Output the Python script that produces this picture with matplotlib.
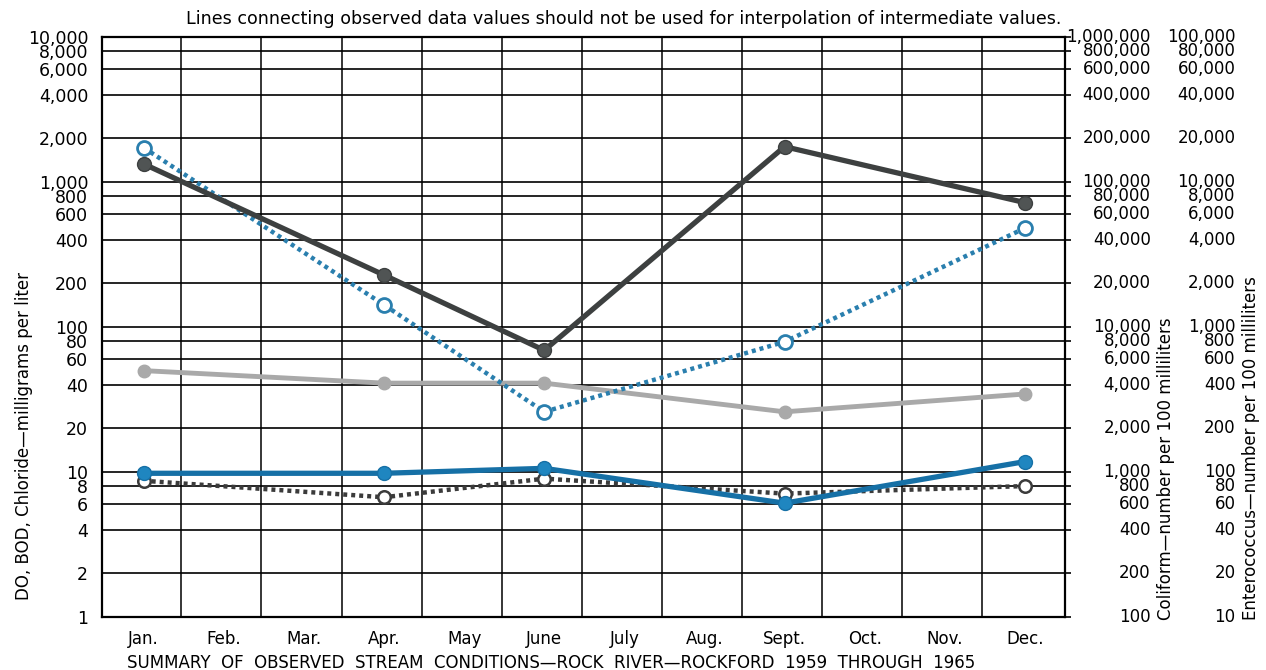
import matplotlib
matplotlib.use('Agg')
import matplotlib.pyplot as plt
import matplotlib.transforms as mtransforms
from matplotlib.ticker import NullFormatter, NullLocator

# months on the x axis
months = ['Jan.', 'Feb.', 'Mar.', 'Apr.', 'May', 'June', 'July', 'Aug.',
          'Sept.', 'Oct.', 'Nov.', 'Dec.']
obs_idx = [0, 3, 5, 8, 11]  # Jan, Apr, June, Sept, Dec

# series values, in left-axis units (coliform x100, enterococcus x10 on right axes)
coliform = [1330, 228, 69, 1750, 720]
enterococcus = [1720, 142, 26, 79, 480]
chloride = [50, 41, 41, 26, 34.5]
do_vals = [9.8, 9.8, 10.6, 6.1, 11.8]
bod = [8.7, 6.7, 9.0, 7.1, 8.0]

left_ticks = [1, 2, 4, 6, 8, 10, 20, 40, 60, 80, 100, 200, 400, 600, 800,
              1000, 2000, 4000, 6000, 8000, 10000]
coliform_ticks = [t * 100 for t in left_ticks]
entero_ticks = [t * 10 for t in left_ticks]


def fmt(v):
    return '{:,}'.format(int(v))


fig = plt.figure(figsize=(12.66, 6.70), dpi=100)
ax = fig.add_axes([0.0806, 0.079, 0.7606, 0.866])

x = obs_idx
ax.plot(x, chloride, color='#a9a9a9', lw=3.5, marker='o', ms=9,
        mfc='#a9a9a9', mec='#a9a9a9', zorder=3)
ax.plot(x, bod, color='#3b3b3b', lw=3.2, ls=(0, (0.9, 0.9)), marker='o', ms=9,
        mfc='white', mec='#3b3b3b', mew=1.8, zorder=4)
ax.plot(x, do_vals, color='#1670a6', lw=3.8, marker='o', ms=10,
        mfc='#1f86c0', mec='#1670a6', zorder=5)
ax.plot(x, enterococcus, color='#2a7fae', lw=3.2, ls=(0, (0.9, 0.9)), marker='o',
        ms=10, mfc='white', mec='#2a7fae', mew=2, zorder=4)
ax.plot(x, coliform, color='#3d4040', lw=3.8, marker='o', ms=10,
        mfc='#505454', mec='#3d4040', zorder=5)

ax.set_yscale('log')
ax.set_ylim(1, 10000)
ax.set_xlim(-0.52, 11.5)

# grid: horizontal at labelled values, vertical at month boundaries
for t in left_ticks[1:-1]:
    ax.axhline(t, color='black', lw=1.2, zorder=1)
for i in range(11):
    ax.axvline(i + 0.47, color='black', lw=1.1, zorder=1)

ax.set_yticks(left_ticks)
ax.set_yticklabels([fmt(t) for t in left_ticks], fontsize=12.5)
ax.yaxis.set_minor_locator(NullLocator())
ax.yaxis.set_minor_formatter(NullFormatter())
ax.tick_params(axis='y', length=0, pad=10)
ax.set_xticks(range(12))
ax.set_xticklabels(months, fontsize=12)
ax.tick_params(axis='x', length=0, pad=9)
for s in ax.spines.values():
    s.set_linewidth(1.6)

# right scales: coliform and enterococcus
ax2 = ax.twinx()
ax2.set_yscale('log')
ax2.set_ylim(100, 1000000)
ax2.set_yticks(coliform_ticks)
ax2.yaxis.set_major_formatter(NullFormatter())
ax2.yaxis.set_minor_locator(NullLocator())
ax2.tick_params(axis='y', length=4, width=1.2, direction='out')
for s in ax2.spines.values():
    s.set_visible(False)

tr_col = mtransforms.blended_transform_factory(fig.transFigure, ax2.transData)
for t in coliform_ticks:
    fig.text(0.909, t, fmt(t), transform=tr_col, ha='right', va='center',
             fontsize=12)

ax3 = ax.twinx()
ax3.set_yscale('log')
ax3.set_ylim(10, 100000)
ax3.set_yticks([])
ax3.yaxis.set_minor_locator(NullLocator())
for s in ax3.spines.values():
    s.set_visible(False)

tr_ent = mtransforms.blended_transform_factory(fig.transFigure, ax3.transData)
for t in entero_ticks:
    fig.text(0.976, t, fmt(t), transform=tr_ent, ha='right', va='center',
             fontsize=12)

fig.text(0.838, 0.972, 'Lines connecting observed data values should not be used '
         'for interpolation of intermediate values.', ha='right', va='center',
         fontsize=12.6)
fig.text(0.019, 0.105, 'DO, BOD, Chloride\u2014milligrams per liter', rotation=90,
         ha='center', va='bottom', fontsize=12)
fig.text(0.921, 0.075, 'Coliform\u2014number per 100 milliliters', rotation=90,
         ha='center', va='bottom', fontsize=12)
fig.text(0.988, 0.075, 'Enterococcus\u2014number per 100 milliliters', rotation=90,
         ha='center', va='bottom', fontsize=12)
fig.text(0.435, 0.010, 'SUMMARY  OF  OBSERVED  STREAM  CONDITIONS\u2014ROCK  RIVER\u2014'
         'ROCKFORD  1959  THROUGH  1965', ha='center', va='center', fontsize=12)

fig.savefig('out.png', dpi=100)
